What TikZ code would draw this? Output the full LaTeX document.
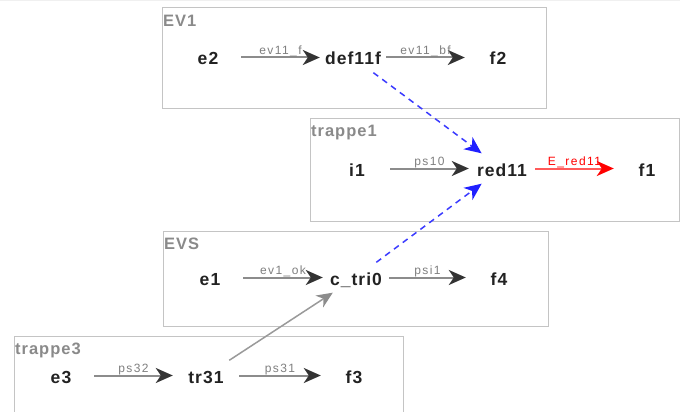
\documentclass[tikz,border=0pt]{standalone}
\usepackage{fontspec}
\setmainfont{Liberation Sans}
\newfontfamily\nodefont[LetterSpace=6]{Liberation Sans}
\newfontfamily\labfont[LetterSpace=12]{Liberation Sans}
\newfontfamily\grpfont[LetterSpace=6]{Liberation Sans}
\usetikzlibrary{arrows.meta}
\definecolor{txt}{HTML}{222222}
\definecolor{lab}{HTML}{7F7F7F}
\definecolor{glab}{HTML}{8A8A8A}
\definecolor{boxc}{HTML}{C4C4C4}
\definecolor{gline}{HTML}{8C8C8C}
\definecolor{ghead}{HTML}{333333}
\definecolor{xline}{HTML}{9A9A9A}
\definecolor{xhead}{HTML}{8C8C8C}
\definecolor{bline}{HTML}{3B3BFF}
\definecolor{bhead}{HTML}{2020FF}
\definecolor{rline}{HTML}{FF5A5A}
\definecolor{rhead}{HTML}{FF0000}
\tikzset{
  st/.style={minimum width=66pt, minimum height=30pt, inner sep=0pt,
    text height=15pt, text depth=0pt, text=txt,
    font={\nodefont\bfseries\fontsize{17.5}{20}\selectfont}},
  grp/.style={draw=boxc, line width=1pt},
  glabel/.style={anchor=north west, inner sep=0pt, text=glab,
    font={\grpfont\bfseries\fontsize{16.5}{19}\selectfont}},
  elab/.style={midway, anchor=base, yshift=3pt, inner sep=0pt, text=lab,
    font={\labfont\fontsize{12}{14}\selectfont}},
  garrow/.style={draw=gline, line width=2pt,
    -{Stealth[length=17pt, width=15pt, inset=5pt, color=ghead]}},
  xarrow/.style={draw=xline, line width=1.5pt,
    -{Stealth[length=16pt, width=14pt, inset=5pt, color=xhead]}},
  rarrow/.style={draw=rline, line width=2pt,
    -{Stealth[length=17pt, width=15pt, inset=5pt, color=rhead]}},
  barrow/.style={draw=bline, line width=1.5pt, dash pattern=on 6pt off 5pt,
    -{Stealth[length=17pt, width=15pt, inset=5pt, color=bhead]}},
}
\begin{document}
\begin{tikzpicture}[x=1pt, y=-1pt]
\useasboundingbox (0,0) rectangle (680,412);
\fill[white] (0,0) rectangle (680,412);
\draw[black!6, line width=1pt] (0,0.5) -- (680,0.5);

% group boxes
\draw[grp] (162,8) rectangle (546,108);
\draw[grp] (310,118) rectangle (679.5,221);
\draw[grp] (163,231) rectangle (548,326);
\draw[grp] (14,336) rectangle (403,430);

\node[glabel] (gEV1) at (163,15) {EV1};
\node[glabel] (gtr1) at (311,125) {trappe1};
\node[glabel] (gEVS) at (164,238) {EVS};
\node[glabel] (gtr3) at (15,343) {trappe3};

% nodes
\node[st] (e2) at (208,57.5) {e2};
\node[st] (def11f) at (353,57.5) {def11f};
\node[st] (f2) at (498,57.5) {f2};

\node[st] (i1) at (357,168.5) {i1};
\node[st] (red11) at (502,168.5) {red11};
\node[st] (f1) at (647,168.5) {f1};

\node[st] (e1) at (210,277.5) {e1};
\node[st] (ctri0) at (356,277.5) {c\_tri0};
\node[st] (f4) at (499,277.5) {f4};

\node[st] (e3) at (61,375.5) {e3};
\node[st] (tr31) at (206,375.5) {tr31};
\node[st] (f3) at (354,375.5) {f3};

% edges
\draw[garrow] (e2) -- node[elab] {ev11\_f} (def11f);
\draw[garrow] (def11f) -- node[elab] {ev11\_bf} (f2);
\draw[garrow] (i1) -- node[elab] {ps10} (red11);
\draw[rarrow] (red11) -- node[elab, text=rhead] {E\_red11} (f1);
\draw[garrow] (e1) -- node[elab] {ev1\_ok} (ctri0);
\draw[garrow] (ctri0) -- node[elab] {psi1} (f4);
\draw[garrow] (e3) -- node[elab] {ps32} (tr31);
\draw[garrow] (tr31) -- node[elab] {ps31} (f3);

\draw[xarrow] (tr31) -- (ctri0);
\draw[barrow] (def11f) -- (red11);
\draw[barrow] (ctri0) -- (red11);
\end{tikzpicture}
\end{document}
